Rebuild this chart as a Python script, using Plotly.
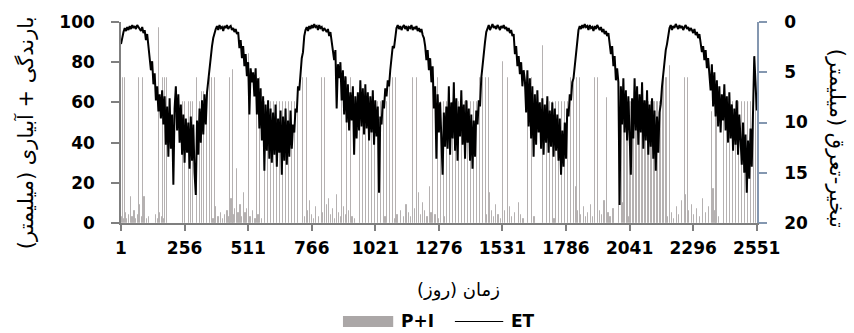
import plotly.graph_objects as go

# ---------------------------------------------------------------
# Daily evapotranspiration (mm), sampled every 5 days, one list per year
# ---------------------------------------------------------------
et_year1 = [2.2, 1.4,
            1.0, 0.6, 0.9, 0.5, 0.8, 0.4, 0.7, 0.3, 0.6, 0.4, 0.7, 0.3, 0.5, 0.6, 0.9, 0.5, 1.1, 0.8,
            1.8, 1.2, 2.6, 3.4,
            4.8, 3.9, 6.2, 5.1, 7.8,
            6.4, 8.9, 7.2, 9.6, 6.8, 10.2,
            7.4, 12.2, 8.4, 13.4, 7.6, 12.6, 9.2, 16.2, 8.6, 6.4, 10.8, 7.2, 12.0, 8.2, 13.2, 9.2,
            14.0, 9.6, 13.0, 10.0, 14.6, 9.4, 13.8, 10.2, 15.0, 17.2,
            9.8, 13.2, 8.6, 12.0, 7.8, 11.2, 7.2, 10.2,
            7.0, 5.8, 4.6, 3.2]
et_year2 = [2.4, 1.6, 1.0,
            0.7, 0.4, 0.8, 0.3, 0.6, 0.5, 0.9, 0.4, 0.6, 0.3, 0.7, 0.5, 0.4, 0.8, 0.6, 1.0, 0.7, 1.2, 1.0,
            2.6, 1.8, 3.6, 2.4, 4.4, 3.2, 5.4, 4.0, 9.2, 4.6, 6.0, 5.0,
            7.4, 4.6, 9.2, 5.6, 10.6, 6.6, 11.8, 7.4, 14.8, 8.2,
            12.8, 7.8, 13.6, 8.6, 14.0, 9.0, 13.2, 8.2, 14.4, 9.6, 13.0, 8.8, 15.2, 9.4, 13.8, 8.6,
            14.2, 9.8, 13.4, 8.8, 12.6,
            10.2, 11.0, 8.6, 9.0, 6.4, 6.8, 4.6, 3.6]
et_year3 = [3.0, 1.4,
            0.8, 0.5, 0.9, 0.4, 0.7, 0.3, 0.6, 0.2, 0.5, 0.4, 0.8, 0.3, 0.6, 0.5, 0.9, 0.6, 0.8, 1.0,
            0.7, 1.4, 1.0, 1.8,
            2.6, 3.8, 2.8, 8.6, 4.2, 5.6,
            4.0, 7.8, 4.8, 9.2, 5.4, 10.0, 6.2, 10.8, 7.0, 9.8, 6.4, 13.2, 7.4, 11.6, 7.0, 10.8,
            5.8, 10.4, 6.6, 11.2, 6.2, 10.6, 7.0, 11.8, 7.4, 11.0, 6.8, 12.2, 7.8, 11.4, 8.4, 17.0,
            9.4, 10.2, 7.8, 8.6, 6.6, 7.4, 5.8, 6.4,
            4.8, 3.4, 2.4]
et_year4 = [2.6, 1.2,
            0.6, 0.3, 0.7, 0.4, 0.8, 0.5, 0.3, 0.7, 0.4, 0.9, 0.5, 0.6, 0.3, 0.8, 0.5, 0.7, 0.4, 0.9,
            0.6, 1.0, 0.7, 1.3, 1.6,
            2.4, 3.8, 2.8, 4.8, 3.6, 6.0, 4.4,
            8.6, 6.4, 13.6, 7.2, 11.0, 8.0, 12.0, 15.2, 9.0, 12.4, 8.4,
            12.6, 6.4, 13.2, 8.0, 11.6, 6.0, 12.8, 7.6, 13.8, 8.4, 11.4, 6.8, 12.2, 8.2, 13.6, 7.8,
            12.0, 8.6,
            13.8, 9.2, 14.6, 9.8, 13.4, 8.8,
            10.2, 7.8, 8.4, 5.6, 4.2, 3.0]
et_year5 = [2.0, 1.0,
            0.5, 0.3, 0.8, 0.4, 0.2, 0.6, 0.4, 0.7, 0.3, 0.5, 0.8, 0.4, 0.6, 0.3, 0.7, 0.5, 0.9, 0.6,
            1.1, 0.8, 1.4, 1.2,
            3.2, 2.4, 4.4, 3.4, 5.2, 4.0, 6.4, 4.8, 5.8,
            9.0, 4.8, 10.4, 5.6, 11.6, 6.4, 13.4, 7.2, 12.2, 6.8, 11.0, 8.0,
            12.6, 7.6, 13.2, 8.2, 12.0, 7.4, 13.0, 8.8, 12.4, 8.0, 13.4, 8.6, 12.8, 9.2, 13.8,
            9.6, 15.2, 10.8, 14.4, 10.0, 13.6,
            8.6, 9.4, 7.2, 7.8, 6.0, 5.6, 4.2]
et_year6 = [3.0, 1.6,
            0.8, 0.4, 0.7, 0.3, 0.6, 0.2, 0.5, 0.4, 0.8, 0.3, 0.6, 0.5, 0.9, 0.4, 0.7, 0.3, 0.6, 0.8,
            0.5, 1.0, 0.7, 1.2, 0.9, 1.4, 1.1,
            2.0, 3.2, 2.4, 4.4, 3.4, 5.8, 4.6,
            6.0, 18.2, 6.4, 10.2, 5.6, 11.0, 6.8, 11.8, 7.4, 11.2, 15.2,
            7.6, 11.6, 5.6, 10.8, 6.4, 12.2, 7.2, 11.0, 6.0, 12.6, 7.8, 11.8, 6.8, 13.2, 8.2, 12.4,
            7.6, 13.6, 8.8, 14.8, 9.4, 13.0,
            9.0, 8.2, 6.4, 5.0, 3.6, 2.8]
et_year7 = [2.2, 1.2,
            0.6, 0.3, 0.8, 0.4, 0.6, 0.2, 0.5, 0.7, 0.3, 0.6, 0.4, 0.8, 0.5, 0.3, 0.7, 0.5, 0.9, 0.6,
            0.8, 1.1, 0.7, 1.3, 1.0, 1.6, 1.2,
            2.0, 3.0, 2.4, 3.8, 2.8, 4.6, 3.6, 5.2,
            6.8, 4.2, 8.4, 5.0, 9.4, 5.8, 10.4, 6.4, 11.0, 7.2, 9.8, 6.2, 10.8,
            7.4, 12.0, 7.0, 11.6, 8.2, 12.8, 8.6, 12.2, 7.8, 13.2, 9.2,
            12.4, 14.2, 10.0, 15.0, 11.2, 17.0, 11.8, 15.6, 10.6, 14.4,
            9.0, 3.4, 6.0, 8.8]

et_values = et_year1 + et_year2 + et_year3 + et_year4 + et_year5 + et_year6 + et_year7
et_step = 5
et_days = [1 + et_step * i for i in range(len(et_values))]

# ---------------------------------------------------------------
# Irrigation events (day, mm)
# ---------------------------------------------------------------
irrigation_days = [9, 17, 73, 89, 153, 169, 177, 185, 250, 258, 274, 282, 290, 306, 318, 326, 334, 346, 358, 366, 378,
                   438, 450, 514, 546, 558, 578, 590, 602, 614, 626, 638, 650, 662, 674, 686, 698, 710, 731, 747,
                   807, 819, 887, 907, 923, 959, 971, 983, 995, 1007, 1019, 1031, 1043, 1055, 1067, 1079, 1091, 1103,
                   1172, 1188, 1252, 1272, 1284, 1296, 1308, 1320, 1332, 1344, 1356, 1368, 1380, 1392, 1404, 1416,
                   1428, 1440, 1452,
                   1465, 1477, 1533, 1553, 1633, 1649, 1693, 1709, 1721, 1733, 1745, 1757, 1769, 1781, 1793, 1805,
                   1817,
                   1829, 1841, 1901, 1913, 1949, 1997, 2009, 2021, 2033, 2045, 2057, 2069, 2081, 2093, 2105, 2117,
                   2129, 2141, 2153, 2165, 2177, 2189,
                   2202, 2262, 2274, 2370, 2390, 2419, 2431, 2443, 2455, 2467, 2479, 2491, 2503, 2515, 2527, 2539,
                   2549]
irrigation_mm = [72, 72, 72, 72, 97, 72, 72, 72, 60, 60, 60, 60, 60, 72, 60, 65, 65, 60, 72, 72, 72,
                 72, 76, 84, 72, 72, 60, 60, 60, 60, 60, 60, 60, 60, 60, 60, 60, 60, 72, 72,
                 72, 72, 72, 72, 72, 60, 60, 60, 60, 60, 60, 60, 60, 60, 60, 72, 72, 72,
                 72, 72, 72, 72, 60, 60, 60, 60, 60, 60, 60, 60, 60, 60, 60, 60,
                 60, 72, 72,
                 72, 72, 80, 72, 72, 72, 88, 60, 60, 60, 60, 60, 60, 60, 60, 72,
                 72,
                 72, 72, 72, 72, 62, 60, 60, 60, 60, 60, 60, 60, 60, 60, 60, 60,
                 60, 60, 60, 60, 72, 72,
                 78, 72, 72, 55, 55, 60, 60, 60, 60, 60, 60, 60, 60, 60, 60, 60,
                 72]

# ---------------------------------------------------------------
# Rainfall events (day, mm)
# ---------------------------------------------------------------
rain_days = [5, 12, 21, 26, 33, 41, 47, 55, 62, 70, 78, 84, 95, 104, 112, 140, 148, 158, 164, 173,
             372, 380, 392, 401, 410, 419, 428, 436, 444, 452, 458, 466, 472, 480, 487, 494, 500, 506, 520, 530,
             540, 552, 568,
             740, 752, 760, 768, 776, 784, 795, 812, 826, 834, 842, 850, 858, 866, 874, 882, 894, 902, 914, 930,
             940, 1062,
             1100, 1110, 1124, 1135, 1146, 1155, 1163, 1180, 1196, 1204, 1212, 1220, 1230, 1240, 1246, 1262,
             1276, 1300,
             1468, 1482, 1490, 1498, 1506, 1515, 1524, 1540, 1560, 1568, 1580, 1596, 1604, 1615, 1660, 1740,
             1826, 1834, 1846, 1858, 1866, 1874, 1886, 1894, 1922, 1930, 1940, 1956, 1964, 1976, 2016, 2040,
             2196, 2210, 2218, 2230, 2240, 2252, 2268, 2280, 2290, 2300, 2312, 2322, 2336, 2348, 2360, 2378,
             2386, 2400, 2420]
rain_mm = [3, 2, 5, 2, 4, 13, 3, 6, 2, 4, 9, 3, 13, 2, 3, 4, 2, 5, 3, 2,
           2, 8, 3, 5, 2, 4, 6, 3, 12, 4, 7, 27, 5, 9, 3, 15, 5, 7, 3, 6,
           2, 4, 2,
           3, 6, 11, 4, 2, 8, 3, 5, 9, 12, 4, 7, 2, 14, 5, 3, 8, 4, 6, 3,
           2, 3,
           2, 4, 6, 3, 9, 5, 3, 7, 15, 4, 10, 6, 3, 18, 5, 4,
           2, 3,
           4, 15, 6, 3, 9, 4, 2, 6, 8, 3, 5, 10, 4, 2, 3, 2,
           18, 6, 4, 8, 3, 5, 9, 3, 6, 4, 11, 5, 3, 7, 10, 3,
           3, 5, 2, 8, 4, 11, 14, 6, 9, 4, 7, 3, 12, 5, 8, 17,
           6, 3, 4]

x_ticks = [1, 256, 511, 766, 1021, 1276, 1531, 1786, 2041, 2296, 2551]

event_days = irrigation_days + rain_days
event_mm = irrigation_mm + rain_mm

BAR_GRAY = "#B5B1B1"
AXIS_GRAY = "#7F7F7F"
RIGHT_AXIS = "#8497B0"
TICK_FONT_BOLD = dict(family="DejaVu Sans", size=17, color="#000000", weight="bold")
TITLE_FONT = dict(family="DejaVu Sans", size=18, color="#000000")

fig = go.Figure()

fig.add_trace(go.Bar(
    x=event_days, y=event_mm, name="P+I",
    width=1.0,
    marker=dict(color=BAR_GRAY, line=dict(color=BAR_GRAY, width=1)),
    showlegend=False,
))

fig.add_trace(go.Scatter(
    x=et_days, y=et_values, name="ET", yaxis="y2",
    mode="lines", line=dict(color="#000000", width=2),
    showlegend=False,
))

fig.update_layout(
    width=854, height=333,
    margin=dict(l=121, r=97, t=19, b=110),
    paper_bgcolor="white", plot_bgcolor="white",
    bargap=0,
    xaxis=dict(
        range=[1, 2552], tickvals=x_ticks, ticktext=[str(v) for v in x_ticks],
        showgrid=False, zeroline=False,
        showline=True, linecolor=AXIS_GRAY, linewidth=1.5,
        ticks="outside", ticklen=6, tickcolor=AXIS_GRAY, tickwidth=1.5,
        tickfont=TICK_FONT_BOLD, ticklabelstandoff=3,
    ),
    yaxis=dict(
        range=[0, 100], tickvals=[0, 20, 40, 60, 80, 100],
        showgrid=False, zeroline=False,
        showline=True, linecolor=AXIS_GRAY, linewidth=1.5,
        ticks="outside", ticklen=8, tickcolor=AXIS_GRAY, tickwidth=1.5,
        tickfont=TICK_FONT_BOLD, ticklabelstandoff=13,
    ),
    yaxis2=dict(
        range=[20, 0], tickvals=[0, 5, 10, 15, 20],
        overlaying="y", side="right",
        showgrid=False, zeroline=False,
        showline=True, linecolor=RIGHT_AXIS, linewidth=1.5,
        ticks="outside", ticklen=8, tickcolor=RIGHT_AXIS, tickwidth=1.5,
        tickfont=TICK_FONT_BOLD, ticklabelstandoff=14,
    ),
)

annotations = [
    dict(text="زمان (روز)", x=0.531, y=-0.335, xref="paper", yref="paper",
         xanchor="center", yanchor="middle", showarrow=False, font=TITLE_FONT),
    dict(text="بارندگی + آبیاری (میلیمتر)", x=-0.15, y=0.45, xref="paper", yref="paper",
         xanchor="center", yanchor="middle", showarrow=False, textangle=-90,
         font=dict(family="DejaVu Sans", size=21, color="#000000")),
    dict(text="تبخیر-تعرق (میلیمتر)", x=1.127, y=0.42, xref="paper", yref="paper",
         xanchor="center", yanchor="middle", showarrow=False, textangle=90,
         font=dict(family="DejaVu Sans", size=21, color="#000000")),
    dict(text="P+I", x=0.437, y=-0.49, xref="paper", yref="paper",
         xanchor="left", yanchor="middle", showarrow=False, font=TICK_FONT_BOLD),
    dict(text="ET", x=0.610, y=-0.49, xref="paper", yref="paper",
         xanchor="left", yanchor="middle", showarrow=False, font=TICK_FONT_BOLD),
]
fig.update_layout(annotations=annotations)

# legend swatches
fig.add_shape(type="rect", xref="paper", yref="paper",
              x0=0.349, x1=0.428, y0=-0.517, y1=-0.463,
              fillcolor="#ABA7A7", line=dict(width=0))
fig.add_shape(type="line", xref="paper", yref="paper",
              x0=0.525, x1=0.601, y0=-0.49, y1=-0.49,
              line=dict(color="#000000", width=1.2))

fig.write_html("out.html")
